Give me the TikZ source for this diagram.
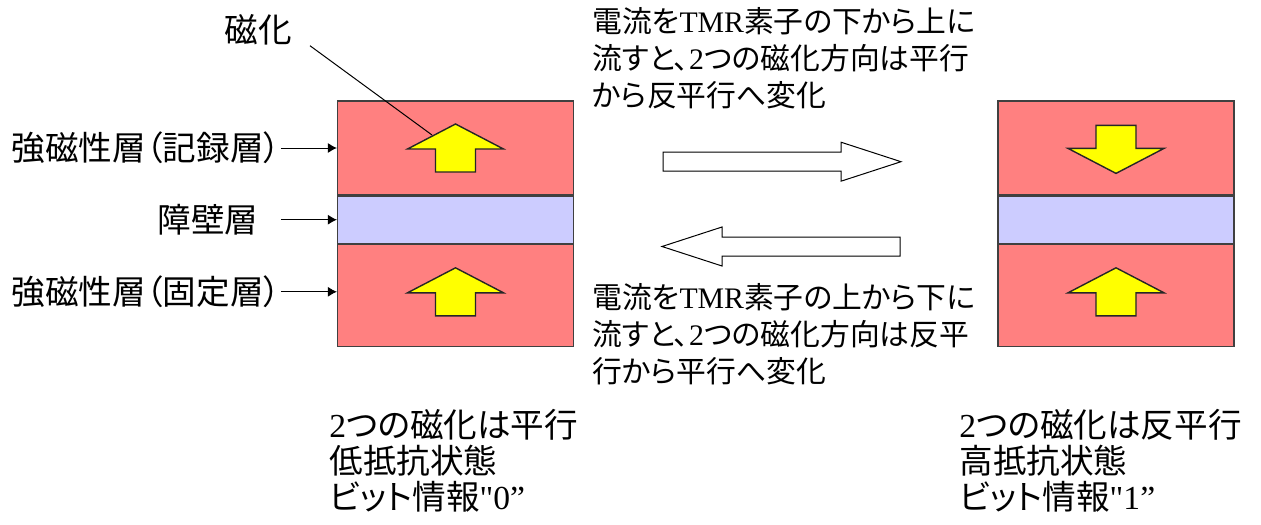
\documentclass[tikz,border=0pt]{standalone}
\usepackage{fontspec}
\setmainfont{Liberation Serif}
\newfontfamily\rawserif{Liberation Serif}
\newfontfamily\jp{Noto Sans CJK JP}[RawFeature=+palt]
\usetikzlibrary{positioning}
\usetikzlibrary{arrows.meta}

\definecolor{ferro}{HTML}{FF8080}
\definecolor{barrier}{HTML}{CCCCFF}
\definecolor{magyellow}{HTML}{FFFF00}

\newcommand{\ja}[1]{{\jp #1}}

\begin{document}
\begin{tikzpicture}[x=0.5pt,y=-0.5pt]
\useasboundingbox (0,0) rectangle (1261,524);

\tikzset{
	layer/.style={draw=black!75, line width=0.6pt, minimum width=118pt, minimum height=47pt, inner sep=0pt},
	lbl/.style={font=\jp\fontsize{16.8}{18}\selectfont, inner sep=0pt},
	note/.style={align=left, inner sep=0pt, font=\fontsize{14.9}{18.5}\selectfont},
	state/.style={align=left, inner sep=0pt, font=\fontsize{16.8}{18}\selectfont},
	lead/.style={line width=0.5pt, -{Latex[length=4.5pt,width=5pt]}},
	magup/.pic={\draw[fill=magyellow, draw=black!85, line width=0.7pt] (0,-24) -- (48,1) -- (20,1) -- (20,24) -- (-20,24) -- (-20,1) -- (-48,1) -- cycle;},
	bigarrow/.pic={\draw[fill=white, line width=0.5pt] (-119,-9.5) -- (59,-9.5) -- (59,-19.5) -- (119,0) -- (59,19.5) -- (59,9.5) -- (-119,9.5) -- cycle;}
}

% parallel state (left)
\node[layer, fill=ferro] (lfree) at (455.5,148) {};
\node[layer, fill=barrier, minimum height=23.5pt, below=0pt of lfree] (lbar) {};
\node[layer, fill=ferro, minimum height=51pt, below=0pt of lbar] (lpin) {};

% antiparallel state (right)
\node[layer, fill=ferro] (rfree) at (1116,148) {};
\node[layer, fill=barrier, minimum height=23.5pt, below=0pt of rfree] (rbar) {};
\node[layer, fill=ferro, minimum height=51pt, below=0pt of rbar] (rpin) {};

\pic at (lfree) {magup};
\pic at ([yshift=1.8pt]lpin) {magup};
\pic[rotate=180] at ([yshift=-0.7pt]rfree) {magup};
\pic at ([yshift=1.8pt]rpin) {magup};

% layer names
\node[lbl, left=28pt of lfree] (lblfree) {強磁性層（記録層）};
\node[lbl, left=28pt of lbar] (lblbar) {障壁層\kern11pt};
\node[lbl, left=28pt of lpin.west, yshift=1.8pt, anchor=east] (lblpin) {強磁性層（固定層）};
\node[lbl, inner xsep=9pt] (maglbl) at (258,30) {磁化};
\coordinate (magtip) at (432,135);

\draw[lead] (lblfree.east) -- (lfree.west);
\draw[lead] (lblbar.east) -- (lbar.west);
\draw[lead] (lblpin.east) -- (lblpin.east -| lpin.west);
\draw[line width=0.5pt] (maglbl.south east) -- (magtip);

% writing currents
\pic at (782,161.7) {bigarrow};
\pic[rotate=180] at (781,246.5) {bigarrow};

\node[note, anchor=west] (setnote) at (592,58) {\ja{電流を}TMR\ja{素子の下から上に}\\\ja{流すと、}2\ja{つの磁化方向は平行}\\\ja{から反平行へ変化}};
\node[note, anchor=west] (resetnote) at (592,334) {\ja{電流を}TMR\ja{素子の上から下に}\\\ja{流すと、}2\ja{つの磁化方向は反平}\\\ja{行から平行へ変化}};

% states
\node[state, anchor=west] (lstate) at (329,461) {2\ja{つの磁化は平行}\\\ja{低抵抗状態}\\\ja{ビット情報}{\rawserif"}0''};
\node[state, anchor=west] (rstate) at (959,461) {2\ja{つの磁化は反平行}\\\ja{高抵抗状態}\\\ja{ビット情報}{\rawserif"}1''};
\end{tikzpicture}
\end{document}
